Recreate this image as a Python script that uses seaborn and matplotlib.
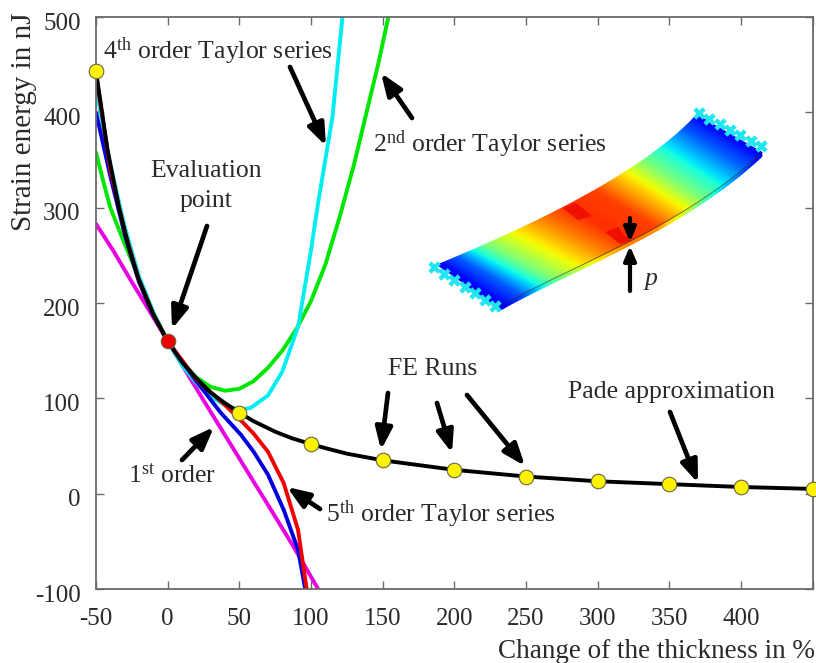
import numpy as np
import pandas as pd
import matplotlib
matplotlib.use("Agg")
import matplotlib.pyplot as plt
from matplotlib.transforms import ScaledTranslation
import seaborn as sns

# curves
x_pade = [-50, -42, -34, -27, -21, -10, 0, 10, 20, 30, 40, 50, 60, 75, 87, 100, 112, 125, 150, 200, 250, 300, 350, 400, 450]
y_pade = [443, 361, 300, 258, 228, 188, 160, 138, 121, 106, 95, 85, 76, 65, 58, 52, 47, 42, 35, 25, 18, 13, 10, 7, 5]

x_t1 = [-50, -38, -25, -10, 0, 25, 50, 75, 88, 105]
y_t1 = [283, 255, 222, 185, 160, 98, 37, -24, -56, -100]

x_t2 = [-50, -45, -40, -30, -20, -10, 0, 10, 20, 30, 40, 50, 60, 70, 80, 90, 100, 110, 120, 130, 138, 147, 154]
y_t2 = [358, 328, 300, 262, 226, 190, 160, 138, 122, 112, 108, 110, 118, 132, 150, 173, 202, 240, 290, 345, 395, 451, 500]

x_t3 = [-50, -40, -30, -20, -10, 0, 20, 37, 51, 60, 70, 81, 91, 96]
y_t3 = [400, 333, 272, 222, 187, 160, 118, 85, 62, 44, 20, -17, -59, -100]

x_t4 = [-50, -40, -30, -20, -10, 0, 10, 20, 30, 40, 50, 58, 70, 80, 91, 100, 105, 110, 115, 122]
y_t4 = [425, 345, 280, 228, 190, 160, 135, 116, 102, 93, 88, 90, 103, 128, 175, 255, 305, 350, 395, 500]

x_t5 = [-50, -40, -30, -20, -10, 0, 20, 40, 51, 60, 70, 81, 91, 97]
y_t5 = [440, 340, 275, 224, 188, 160, 120, 93, 77, 63, 44, 11, -38, -100]

series_x = [x_t1, x_t2, x_t4, x_t3, x_t5, x_pade]
series_y = [y_t1, y_t2, y_t4, y_t3, y_t5, y_pade]
series_colors = ["#e800e0", "#00e600", "#00eef0", "#0000e0", "#f00000", "#000000"]

# FE runs
fe_x = [-50, 50, 100, 150, 200, 250, 300, 350, 400, 450]
fe_y = [443, 85, 52, 35, 25, 18, 13, 10, 7, 5]
eval_x = [0]
eval_y = [160]

x_ticks = [-50, 0, 50, 100, 150, 200, 250, 300, 350, 400, 450]
x_labels = ["-50", "0", "50", "100", "150", "200", "250", "300", "350", "400", ""]
y_ticks = [-100, 0, 100, 200, 300, 400, 500]
y_labels = ["-100", "0", "100", "200", "300", "400", "500"]

# annotation arrows, (tail, tip) in picture pixels
arrows = [
    ((290, 67), (326, 146)),
    ((412, 118), (381, 73)),
    ((207, 226), (172, 329)),
    ((182, 460), (214, 427)),
    ((320, 509), (287, 487)),
    ((388, 393), (381, 450)),
    ((437, 403), (452, 453)),
    ((467, 395), (525, 466)),
    ((670, 412), (698, 483)),
]

# beam inset, picture pixels
beam_s = [0, 0.25, 0.5, 0.75, 1]
beam_top_x = [438, 493, 567, 637, 697]
beam_top_y = [265, 240, 207, 163, 115]
beam_bot_x = [498, 560, 630, 697, 762]
beam_bot_y = [308, 273, 245, 200, 153]
band_s = [0, 0.1, 0.15, 0.22, 0.3, 0.4, 0.5, 0.6, 0.68, 0.72, 0.77, 0.85, 0.93, 1]
band_v = [0.1, 0.22, 0.33, 0.5, 0.62, 0.75, 0.86, 0.84, 0.7, 0.62, 0.5, 0.36, 0.22, 0.12]

sns.set_theme(style="ticks")
plt.rcParams["font.family"] = ["Liberation Serif", "DejaVu Serif"]
plt.rcParams["mathtext.fontset"] = "custom"
plt.rcParams["mathtext.rm"] = "Liberation Serif"
plt.rcParams["mathtext.it"] = "Liberation Serif:italic"

GREY = "#6a6a6a"
TXT = "#2a2a2a"

fig = plt.figure(figsize=(8.16, 6.63), dpi=100)
ax = fig.add_axes([96 / 816, 1 - 589 / 663, (812.5 - 96) / 816, (589 - 17) / 663])

for xs, ys, col in zip(series_x, series_y, series_colors):
    df = pd.DataFrame({"x": xs, "y": ys})
    sns.lineplot(data=df, x="x", y="y", color=col, lw=2.8, sort=False, estimator=None, legend=False, ax=ax)

sns.scatterplot(x=fe_x, y=fe_y, color="#fff200", edgecolor="#666644", linewidth=0.8, s=110, clip_on=False, zorder=5, legend=False, ax=ax)
sns.scatterplot(x=eval_x, y=eval_y, color="#ee0000", edgecolor="#666644", linewidth=0.8, s=110, clip_on=False, zorder=5, legend=False, ax=ax)

ax.set_xlim(-50, 450)
ax.set_ylim(-100, 500)
ax.set_xticks(x_ticks)
ax.set_xticklabels(x_labels)
ax.set_yticks(y_ticks)
ax.set_yticklabels(y_labels)
ax.tick_params(axis="both", direction="in", length=6, width=1, color=GREY, labelsize=18, labelcolor=TXT)
ax.tick_params(axis="x", pad=14, top=True)
ax.tick_params(axis="y", pad=11, right=True)
# the y labels sit a little under their ticks in the original
for lab in ax.get_yticklabels():
    lab.set_transform(lab.get_transform() + ScaledTranslation(0, -3 / 72, fig.dpi_scale_trans))
for side in ax.spines.values():
    side.set_visible(True)
    side.set_color(GREY)
    side.set_linewidth(1.3)

ax.set_xlabel("Change of the thickness in %", fontsize=19.5, color=TXT, ha="right")
ax.xaxis.set_label_coords(1.004, -0.088)
ax.set_ylabel("Strain energy in nJ", fontsize=21, color=TXT, ha="right")
ax.yaxis.set_label_coords(-0.082, 1.007)

# overlay in picture pixels for the inset and the notes
ov = fig.add_axes([0, 0, 1, 1], facecolor="none")
ov.set_xlim(0, 816)
ov.set_ylim(663, 0)
ov.axis("off")

s = np.linspace(0, 1, 120)
top_x = np.polyval(np.polyfit(beam_s, beam_top_x, 3), s)
top_y = np.polyval(np.polyfit(beam_s, beam_top_y, 3), s)
bot_x = np.polyval(np.polyfit(beam_s, beam_bot_x, 3), s)
bot_y = np.polyval(np.polyfit(beam_s, beam_bot_y, 3), s)
vals = np.interp(s, band_s, band_v)
ov.pcolormesh(np.vstack([bot_x, bot_x]), np.vstack([bot_y, bot_y + 4]), np.vstack([vals, vals]) * 0.9,
              shading="gouraud", cmap="jet", vmin=0, vmax=1, zorder=2)
ov.pcolormesh(np.vstack([top_x, bot_x]), np.vstack([top_y, bot_y]), np.vstack([vals, vals]),
              shading="gouraud", cmap="jet", vmin=0, vmax=1, zorder=3)
ov.plot(bot_x, bot_y, color="#333333", lw=0.6, alpha=0.7, zorder=4)
ov.fill([563, 576, 592, 578], [208, 203, 216, 220], color="#f01000", lw=0, zorder=4)
ov.fill([605, 618, 630, 620], [232, 227, 241, 244], color="#f01000", lw=0, zorder=4)
ov.scatter(np.linspace(434, 495, 7), np.linspace(267, 306, 7), marker="X", s=80, color="#20e6f0", lw=0, zorder=5)
ov.scatter(np.linspace(699, 761, 7), np.linspace(113, 146, 7), marker="X", s=80, color="#20e6f0", lw=0, zorder=5)

for tail, tip in arrows:
    ov.annotate("", xy=tip, xytext=tail, zorder=6,
                arrowprops=dict(arrowstyle="-|>,head_width=0.42,head_length=1.1", color="black", lw=3.4, shrinkA=0, shrinkB=0))
ov.annotate("", xy=(630, 246), xytext=(630, 291), zorder=6,
            arrowprops=dict(arrowstyle="-|>,head_width=0.3,head_length=0.7", color="black", lw=3, shrinkA=0, shrinkB=0))
ov.annotate("", xy=(630, 242), xytext=(630, 218), zorder=6,
            arrowprops=dict(arrowstyle="-|>,head_width=0.3,head_length=0.7", color="black", lw=3, shrinkA=0, shrinkB=0))

note = dict(fontsize=18.5, color=TXT, va="center", zorder=7)
ov.text(103, 51, r"4$^{\mathrm{th}}$ order Taylor series", ha="left", **note)
ov.text(206, 171, "Evaluation", ha="center", **note)
ov.text(206, 201, "point", ha="center", **note)
ov.text(373, 144, r"2$^{\mathrm{nd}}$ order Taylor series", ha="left", **note)
ov.text(128, 476, r"1$^{\mathrm{st}}$ order", ha="left", **note)
ov.text(326, 514, r"5$^{\mathrm{th}}$ order Taylor series", ha="left", **note)
ov.text(388, 369, "FE Runs", ha="left", **note)
ov.text(568, 392, "Pade approximation", ha="left", **note)
ov.text(645, 279, "p", ha="left", style="italic", **note)

fig.savefig("out.png", dpi=100)
